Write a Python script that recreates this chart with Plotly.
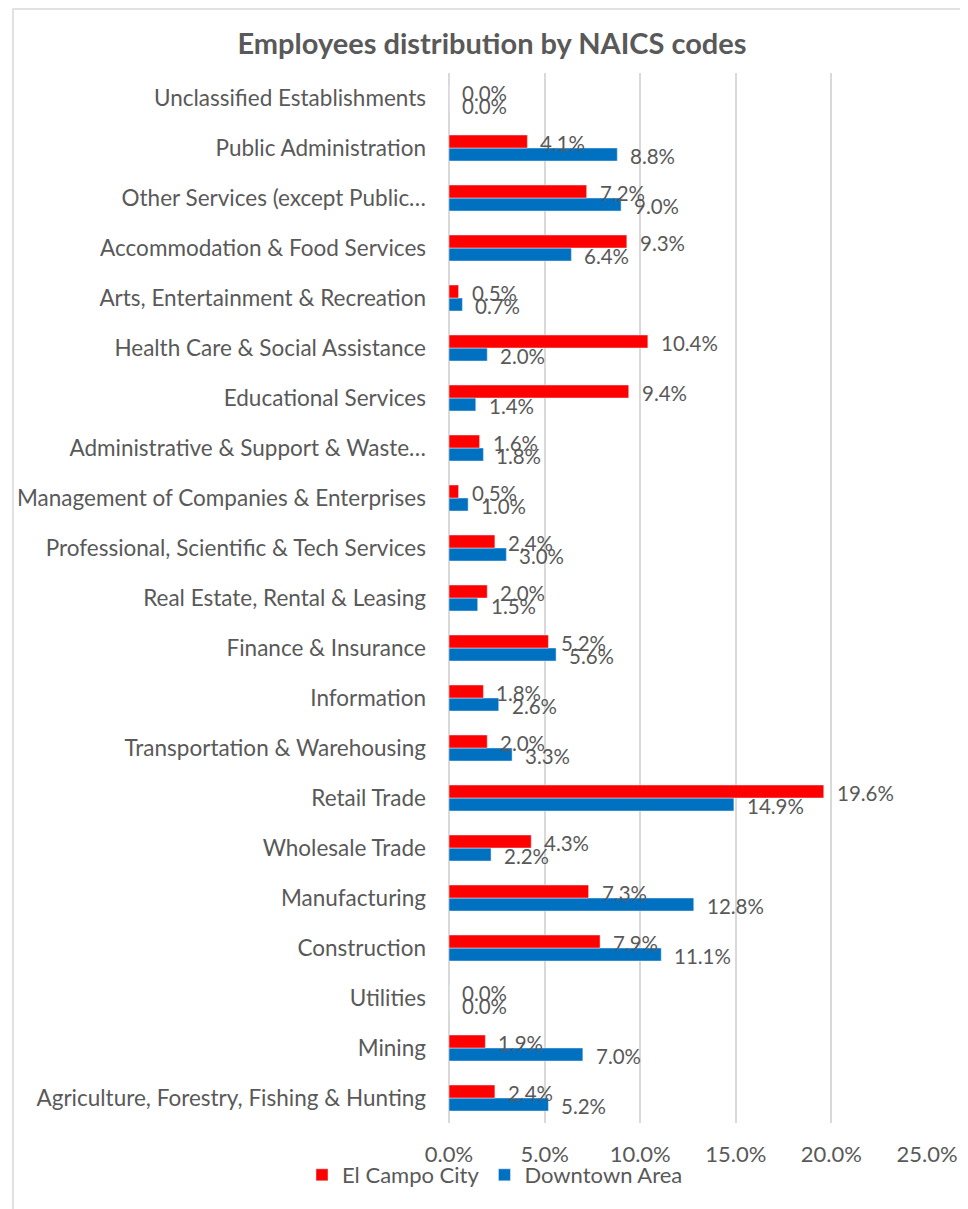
import plotly.graph_objects as go

# categories listed bottom -> top
categories = [
    "Agriculture, Forestry, Fishing & Hunting",
    "Mining",
    "Utilities",
    "Construction",
    "Manufacturing",
    "Wholesale Trade",
    "Retail Trade",
    "Transportation & Warehousing",
    "Information",
    "Finance & Insurance",
    "Real Estate, Rental & Leasing",
    "Professional, Scientific & Tech Services",
    "Management of Companies & Enterprises",
    "Administrative & Support & Waste…",
    "Educational Services",
    "Health Care & Social Assistance",
    "Arts, Entertainment & Recreation",
    "Accommodation & Food Services",
    "Other Services (except Public…",
    "Public Administration",
    "Unclassified Establishments",
]

el_campo = [2.4, 1.9, 0.0, 7.9, 7.3, 4.3, 19.6, 2.0, 1.8, 5.2, 2.0, 2.4, 0.5, 1.6, 9.4, 10.4, 0.5, 9.3, 7.2, 4.1, 0.0]
downtown = [5.2, 7.0, 0.0, 11.1, 12.8, 2.2, 14.9, 3.3, 2.6, 5.6, 1.5, 3.0, 1.0, 1.8, 1.4, 2.0, 0.7, 6.4, 9.0, 8.8, 0.0]

x_ticks = [0, 5, 10, 15, 20, 25]

RED = "#FF0000"
BLUE = "#0070C0"
TXT = "#595959"
GRID = "#D9D9D9"
FONT = "Lato"

# page body adds 8px, so plot box is given relative to the figure origin
L, T, PW, PH = 441, 65, 478, 1050

fig = go.Figure()
# blue first so it sits below red within each group
fig.add_trace(go.Bar(y=categories, x=downtown, orientation="h", name="Downtown Area",
                     marker_color=BLUE, legendrank=2))
fig.add_trace(go.Bar(y=categories, x=el_campo, orientation="h", name="El Campo City",
                     marker_color=RED, legendrank=1))

# data labels just past the end of each bar
for cat, r, b in zip(categories, el_campo, downtown):
    fig.add_annotation(x=r, y=cat, text=f"{r:.1f}%", showarrow=False, xanchor="left",
                       yanchor="middle", xshift=11, yshift=5,
                       font=dict(family=FONT, size=20.5, color=TXT))
    fig.add_annotation(x=b, y=cat, text=f"{b:.1f}%", showarrow=False, xanchor="left",
                       yanchor="middle", xshift=11, yshift=-8,
                       font=dict(family=FONT, size=20.5, color=TXT))

# outer chart border
fig.add_shape(type="rect", xref="paper", yref="paper",
              x0=(5 - L) / PW, x1=(1000 - L) / PW,
              y0=-(1240 - T - PH) / PH, y1=1 + (T - 1) / PH,
              line=dict(color=GRID, width=1.5), layer="below")

fig.update_layout(
    width=968, height=1209,
    margin=dict(l=L, r=968 - L - PW, t=T, b=1209 - T - PH),
    paper_bgcolor="white", plot_bgcolor="white",
    barmode="group", bargap=0.48, bargroupgap=0,
    font=dict(family=FONT, color=TXT),
    title=dict(text="<b>Employees distribution by NAICS codes</b>", x=0.5, xanchor="center",
               y=1 - 36 / 1209, yanchor="middle",
               font=dict(family=FONT, size=29, color=TXT)),
    xaxis=dict(range=[0, 25], tickvals=x_ticks, ticktext=[f"{v:.1f}%" for v in x_ticks],
               showgrid=True, gridcolor=GRID, gridwidth=1.5,
               zeroline=True, zerolinecolor=GRID, zerolinewidth=2,
               tickfont=dict(family=FONT, size=22, color=TXT), ticks="", showline=False,
               ticklabelstandoff=16, automargin=False),
    yaxis=dict(type="category", categoryorder="array", categoryarray=categories,
               tickfont=dict(family=FONT, size=22.5, color=TXT), ticks="", showline=False,
               ticklabelstandoff=22, automargin=False),
    legend=dict(orientation="h", x=(294 - L) / PW, xanchor="left",
                y=-52 / PH, yanchor="middle", bgcolor="rgba(0,0,0,0)",
                font=dict(family=FONT, size=22, color=TXT), itemwidth=30),
    showlegend=True,
)

fig.write_html("out.html")
